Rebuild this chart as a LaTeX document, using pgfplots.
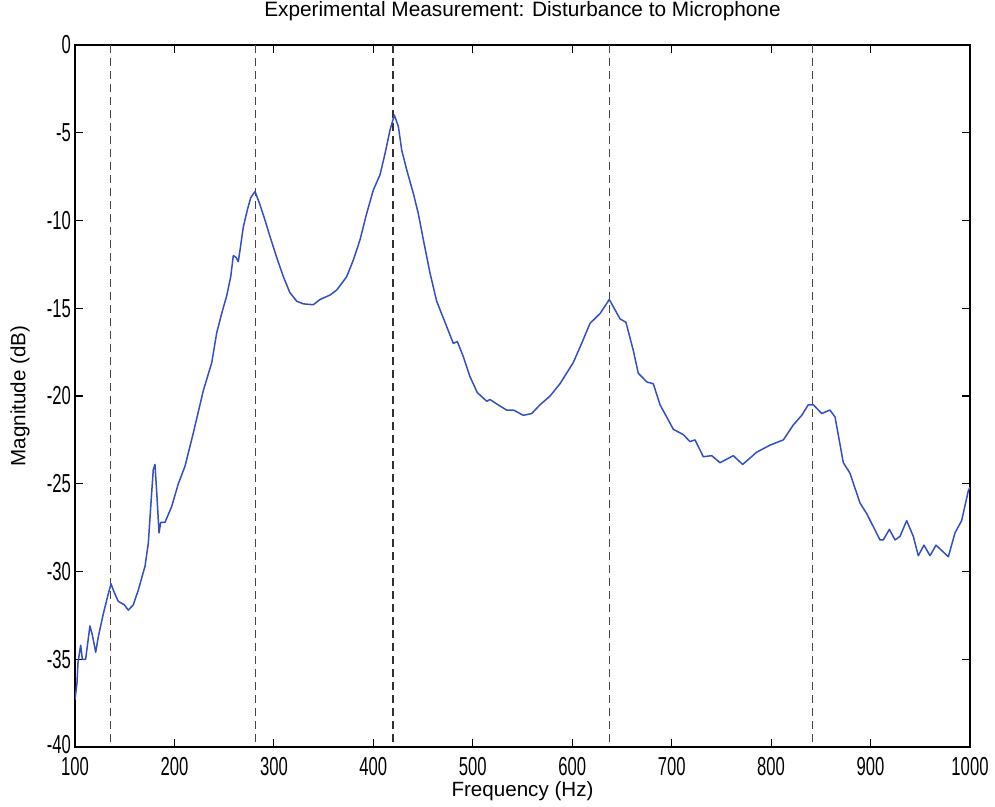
\documentclass[border=0pt]{standalone}
\usepackage{pgfplots}
\pgfplotsset{compat=1.18}
\usepackage{fontspec}
\setmainfont{Liberation Sans}

\definecolor{traceblue}{RGB}{52,78,200}
\definecolor{markgray}{RGB}{70,70,70}

\begin{document}
\begin{tikzpicture}
\begin{axis}[
  name=ax,
  scale only axis,
  width=447.5pt, height=351pt,
  xmin=100, xmax=1000, ymin=-40, ymax=0,
  xtick={100,200,...,1000},
  ytick={-40,-35,...,0},
  yticklabels={\raisebox{3pt}{-40},-35,-30,-25,-20,-15,-10,-5,0},
  tick align=inside,
  major tick length=4pt,
  axis line style={line width=0.6pt},
  tick style={line width=0.6pt, black},
  /pgf/number format/assume math mode=true,
  /pgf/number format/1000 sep={},
  ticklabel style={font=\fontsize{13}{15}\selectfont, inner sep=1pt, xscale=0.64},
  xticklabel style={yshift=-4pt},
  yticklabel style={xshift=-2pt},
  title={Experimental Measurement: Disturbance to Microphone},
  title style={font=\fontsize{10.4}{12}\selectfont, at={(0.5,1)}, anchor=south, yshift=6pt, inner sep=0pt},
  xlabel={Frequency (Hz)},
  ylabel={Magnitude (dB)},
  label style={font=\fontsize{10.3}{12}\selectfont},
  xlabel style={at={(axis description cs:0.5,0)}, anchor=north, yshift=-17pt, inner sep=0pt},
  ylabel style={at={(axis description cs:-0.0615,0.5)}, anchor=center, inner sep=0pt},
  clip=true,
]
% resonance markers
\addplot[markgray, line width=0.5pt, dash pattern=on 4pt off 2.5pt] coordinates {(136,0) (136,-40)};
\addplot[markgray, line width=0.5pt, dash pattern=on 4pt off 2.5pt] coordinates {(282,0) (282,-40)};
\addplot[markgray!70!black, line width=0.9pt, dash pattern=on 4pt off 2.5pt] coordinates {(420,0) (420,-40)};
\addplot[markgray, line width=0.5pt, dash pattern=on 4pt off 2.5pt] coordinates {(637,0) (637,-40)};
\addplot[markgray, line width=0.5pt, dash pattern=on 4pt off 2.5pt] coordinates {(842,0) (842,-40)};

% measured magnitude response
\addplot[traceblue, line width=0.75pt, line join=round] coordinates {
(100,-37.3) (102,-36.35) (103,-35.2) (105.7,-34.2) (107.4,-35.0) (110.7,-35.0)
(115,-33.1) (117.4,-33.6) (120.8,-34.6) (123.5,-33.7) (128.5,-32.4) (132.9,-31.4)
(136.2,-30.7) (139.5,-31.2) (143.5,-31.7) (149.6,-31.9) (153.6,-32.2) (158.6,-31.9)
(163.7,-31.05) (170.4,-29.7) (173.7,-28.4) (176.4,-26.1) (178.7,-24.2) (180.4,-23.9)
(182.1,-25.4) (184.5,-27.8) (186.2,-27.2) (190.5,-27.2) (197.2,-26.3) (203.9,-25.0)
(210.6,-24.0) (219,-22.1) (229,-19.7) (237.5,-18.1) (242.5,-16.4) (247.5,-15.3)
(252.5,-14.3) (256.6,-13.2) (259.2,-12.0) (261.9,-12.1) (264.2,-12.35) (265.9,-11.7)
(269.3,-10.35) (273.3,-9.4) (276.7,-8.7) (281,-8.35) (285.4,-9.0) (291,-9.97)
(296,-10.9) (302.8,-12.1) (309.5,-13.2) (316,-14.1) (323,-14.6) (329.6,-14.75)
(339.6,-14.8) (346.4,-14.5) (356.4,-14.25) (363.2,-13.96) (373.2,-13.2) (379.9,-12.25)
(386.6,-11.1) (393.3,-9.6) (400,-8.26) (406.7,-7.4) (411.7,-6.2) (416.8,-4.84)
(421.1,-3.99) (425.2,-4.65) (428.5,-5.98) (433.5,-7.1) (440.2,-8.45) (445.2,-9.6)
(450.3,-11.1) (457,-13.0) (463.7,-14.6) (473.8,-16.05) (480.4,-17.0) (484.5,-16.9)
(490.5,-17.76) (497.2,-18.9) (504.5,-19.8) (514,-20.3) (517.3,-20.2) (524,-20.45)
(534,-20.8) (540.8,-20.8) (550.8,-21.1) (559.3,-21.0) (567.6,-20.5) (577.7,-20.0)
(587.7,-19.3) (601,-18.1) (609.5,-17.0) (617.9,-15.86) (628,-15.3) (637.3,-14.5)
(648,-15.6) (654,-15.8) (661.4,-17.4) (666.4,-18.7) (675,-19.2) (681.5,-19.3)
(688.3,-20.5) (695,-21.2) (701.7,-21.9) (711.7,-22.2) (718.4,-22.6) (723.5,-22.5)
(731.8,-23.46) (740.3,-23.4) (748.6,-23.8) (762,-23.4) (771.4,-23.9) (785.5,-23.2)
(798.9,-22.8) (812.3,-22.5) (822.3,-21.65) (830.8,-21.1) (837.4,-20.5) (842.5,-20.5)
(850.9,-21.0) (859.2,-20.8) (864.3,-21.2) (872.6,-23.8) (879.3,-24.4) (889.4,-26.1)
(896.1,-26.7) (909.5,-28.2) (912.8,-28.2) (918.9,-27.6) (924.6,-28.2) (929.6,-28.0)
(936.3,-27.1) (943,-28.0) (948,-29.1) (953.7,-28.5) (959.8,-29.1) (965.8,-28.5)
(971.5,-28.8) (978.2,-29.16) (984.9,-27.8) (991.6,-27.1) (998.3,-25.4) (1000,-25.2)
};
\end{axis}
\pgfresetboundingbox
\path (ax.south west) ++(-37.5pt,-29.5pt) coordinate (bbsw);
\path (ax.north east) ++(12.5pt,22.5pt) coordinate (bbne);
\useasboundingbox (bbsw) rectangle (bbne);
\end{tikzpicture}
\end{document}
